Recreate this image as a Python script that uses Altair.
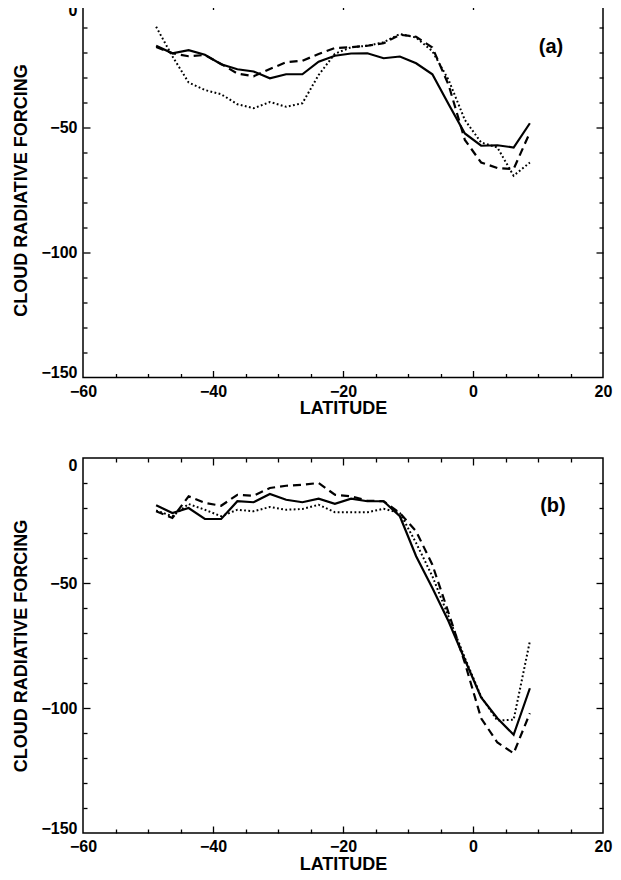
import altair as alt
import pandas as pd

FONT = "Liberation Sans"

# latitude grid (degrees)
lat = [-48.75, -46.25, -43.75, -41.25, -38.75, -36.25, -33.75, -31.25,
       -28.75, -26.25, -23.75, -21.25, -18.75, -16.25, -13.75, -11.25,
       -8.75, -6.25, -3.75, -1.25, 1.25, 3.75, 6.25, 8.75]

# panel (a)
a_solid = [-17.3, -20.3, -19.1, -20.9, -24.7, -26.7, -27.6, -30.3, -28.7, -28.7,
           -23.7, -21.3, -20.4, -20.3, -22.3, -21.6, -24.3, -28.7, -40.7, -52.4,
           -57.3, -57.1, -58.0, -48.3]
a_dashed = [-17.8, -20.3, -21.5, -21.0, -24.6, -28.4, -29.5, -26.6, -23.9, -23.3,
            -20.6, -18.2, -17.9, -17.3, -16.3, -12.9, -13.7, -18.0, -33.0, -55.0,
            -64.0, -66.2, -66.6, -52.0]
a_dotted = [-9.7, -21.5, -32.0, -35.0, -36.7, -40.7, -42.3, -39.8, -41.7, -40.3,
            -29.0, -20.5, -17.9, -17.3, -15.9, -12.6, -14.0, -19.5, -31.0, -47.0,
            -56.0, -58.0, -69.3, -64.0]

# panel (b)
b_solid = [-18.9, -22.0, -20.0, -24.4, -24.4, -17.3, -17.7, -14.4, -16.7, -17.7,
           -16.3, -18.3, -16.3, -17.3, -17.3, -23.3, -39.3, -52.0, -65.4, -80.7,
           -95.8, -104.1, -110.7, -92.1]
b_dashed = [-21.3, -24.0, -15.3, -18.0, -19.1, -14.7, -15.1, -12.0, -11.1, -10.7,
            -10.0, -14.7, -15.3, -17.1, -17.3, -22.0, -29.3, -42.7, -62.0, -82.0,
            -104.1, -113.8, -118.1, -102.1]
b_dotted = [-21.0, -23.3, -18.4, -20.7, -23.3, -20.7, -21.3, -19.6, -20.7, -20.4,
            -18.7, -21.7, -21.7, -21.7, -20.3, -22.0, -34.0, -47.3, -63.5, -80.0,
            -95.5, -105.0, -104.7, -73.3]

# panel tags
tag_text = ["(a)", "(b)"]
tag_lat = [12.0, 12.3]
tag_val = [-17.8, -19.0]

# axis labels / ticks
x_label_values = [-60, -40, -20, 0, 20]
x_tick_values = [-55, -50, -45, -40, -35, -30, -25, -20, -15, -10, -5, 0, 5, 10, 15]
y_label_values = [0, -50, -100, -150]
y_tick_values = [-10, -20, -30, -40, -50, -60, -70, -80, -90, -100,
                 -110, -120, -130, -140]

W, H = 520, 375

xs = alt.Scale(domain=[-60, 20], nice=False, zero=False)
ys = alt.Scale(domain=[-150, 0], nice=False, zero=False)

lab = dict(labelFont=FONT, labelFontSize=16, labelFontWeight="bold",
           labelColor="black")
ttl = dict(titleFont=FONT, titleFontSize=18, titleFontWeight="bold",
           titleColor="black", titleBaseline="alphabetic")

x_tick_size = {"condition": {"test": "datum.value % 20 === 0", "value": 7}, "value": 4}
y_tick_size = {"condition": {"test": "datum.value % 50 === 0", "value": 7}, "value": 4}
# keep the end labels inside the frame, as in the original
y_label_offset = {"condition": [{"test": "datum.value === 0", "value": 7.5},
                                {"test": "datum.value === -150", "value": -5}],
                  "value": 0}

x_main = alt.Axis(orient="bottom", values=x_label_values, ticks=False, tickSize=0,
                  domain=False, grid=False, labelFlush=False, labelOverlap=False,
                  labelPadding=5.5, title="LATITUDE", titleY=36, **lab, **ttl)
y_main = alt.Axis(orient="left", values=y_label_values, ticks=False, tickSize=0,
                  domain=False, grid=False, labelFlush=False, labelOverlap=False,
                  labelOffset=y_label_offset,
                  labelPadding=6, title="CLOUD RADIATIVE FORCING",
                  titleX=-57, titleY=H / 2, **lab, **ttl)

def tick_axis(orient, offset, values, size):
    return alt.Axis(orient=orient, offset=offset, values=values, labels=False,
                    domain=False, grid=False, ticks=True, tickSize=size,
                    tickColor="black", tickWidth=1.3, title=None)

def panel(solid, dashed, dotted, idx):
    df_s = pd.DataFrame({"lat": lat, "val": solid})
    df_d = pd.DataFrame({"lat": lat, "val": dashed})
    df_o = pd.DataFrame({"lat": lat, "val": dotted})
    df_t = pd.DataFrame({"lat": [tag_lat[idx]], "val": [tag_val[idx]],
                         "txt": [tag_text[idx]]})

    l_solid = alt.Chart(df_s).mark_line(color="black", strokeWidth=2.2).encode(
        x=alt.X("lat:Q", scale=xs, axis=x_main),
        y=alt.Y("val:Q", scale=ys, axis=y_main),
    )
    l_dashed = alt.Chart(df_d).mark_line(color="black", strokeWidth=2.2,
                                         strokeDash=[8, 5]).encode(
        x=alt.X("lat:Q", scale=xs, axis=tick_axis("top", -H, x_tick_values, x_tick_size)),
        y=alt.Y("val:Q", scale=ys, axis=tick_axis("right", -W, y_tick_values, y_tick_size)),
    )
    l_dotted = alt.Chart(df_o).mark_line(color="black", strokeWidth=2.0,
                                         strokeDash=[1.8, 2.4]).encode(
        x=alt.X("lat:Q", scale=xs, axis=tick_axis("bottom", -H, x_tick_values, x_tick_size)),
        y=alt.Y("val:Q", scale=ys, axis=tick_axis("left", -W, y_tick_values, y_tick_size)),
    )
    tag = alt.Chart(df_t).mark_text(font=FONT, fontSize=20, fontWeight="bold",
                                    color="black", align="center",
                                    baseline="middle").encode(
        x=alt.X("lat:Q", scale=xs, axis=None),
        y=alt.Y("val:Q", scale=ys, axis=None),
        text="txt:N",
    )
    return alt.layer(l_solid, l_dashed, l_dotted, tag).resolve_axis(
        x="independent", y="independent").properties(width=W, height=H)

chart = alt.vconcat(
    panel(a_solid, a_dashed, a_dotted, 0),
    panel(b_solid, b_dashed, b_dotted, 1),
    spacing=37.5,
).properties(
    padding={"left": 3, "top": -7.5, "right": 0, "bottom": -4},
    background="white",
).configure_view(stroke="black", strokeWidth=1.5)

chart.save("out.html", embed_options={"renderer": "svg", "actions": False})
